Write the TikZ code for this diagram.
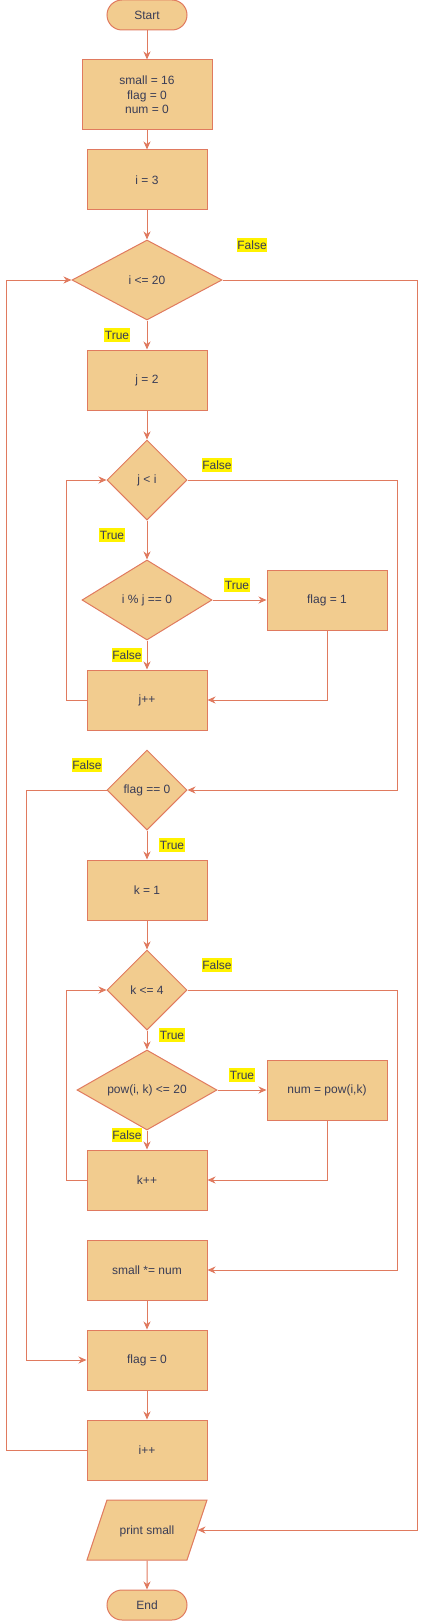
\documentclass[tikz,border=0pt]{standalone}
\usepackage{fontspec}
\setmainfont{Liberation Sans}
\usetikzlibrary{arrows.meta,shapes.geometric}
\definecolor{boxfill}{HTML}{F2CC8F}
\definecolor{boxline}{HTML}{E07A5F}
\definecolor{boxtext}{HTML}{393C56}
\tikzset{
  proc/.style={draw=boxline,fill=boxfill,text=boxtext,line width=1pt,
    minimum width=120pt,minimum height=60pt,inner sep=0pt,align=center},
  term/.style={proc,minimum width=80pt,minimum height=30pt,rounded corners=15pt},
  decide/.style={proc,diamond,shape aspect=2,minimum width=80pt,minimum height=80pt},
  io/.style={proc,trapezium,trapezium left angle=71.57,trapezium right angle=108.43,
    trapezium stretches body=true,text height=34pt,text depth=26pt},
  lbl/.style={fill=yellow,text=boxtext,inner sep=0.5pt,minimum height=14pt},
  flow/.style={draw=boxline,line width=1pt,-{Stealth[length=8pt,width=7pt,inset=2.5pt]}}
}

\begin{document}
\begin{tikzpicture}[x=1pt,y=-1pt,font=\fontsize{12}{14.4}\selectfont]
  \useasboundingbox (0,0) rectangle (426,1621);
  % main column
  \node[term] (start) at (147,15) {Start};
  \node[proc,minimum width=130pt,minimum height=70pt] (init) at (147,95) {small = 16\\flag = 0\\num = 0};
  \node[proc] (iset) at (147,180) {i = 3};
  \node[decide,minimum width=150pt] (iloop) at (147,280) {i <= 20};
  \node[proc] (jset) at (147,380) {j = 2};
  \node[decide] (jloop) at (147,480) {j < i};
  \node[decide,minimum width=130pt] (divchk) at (147,600) {i \% j == 0};
  \node[proc] (flagone) at (327,600) {flag = 1};
  \node[proc] (jinc) at (147,700) {j++};
  \node[decide] (flagchk) at (147,790) {flag == 0};
  \node[proc] (kset) at (147,890) {k = 1};
  \node[decide] (kloop) at (147,990) {k <= 4};
  \node[decide,minimum width=140pt] (powchk) at (147,1090) {pow(i, k) <= 20};
  \node[proc] (numset) at (327,1090) {num = pow(i,k)};
  \node[proc] (kinc) at (147,1180) {k++};
  \node[proc] (smallmul) at (147,1270) {small *= num};
  \node[proc] (flagzero) at (147,1360) {flag = 0};
  \node[proc] (iinc) at (147,1450) {i++};
  \node[io] (out) at (147,1530) {print small};
  \node[term] (finish) at (147,1605) {End};

  % branch labels
  \node[lbl] (ifalse) at (252,245) {False};
  \node[lbl] (itrue) at (117,335) {True};
  \node[lbl] (jfalse) at (217,465) {False};
  \node[lbl] (jtrue) at (112,535) {True};
  \node[lbl] (divtrue) at (237,585) {True};
  \node[lbl] (divfalse) at (127,655) {False};
  \node[lbl] (flagfalse) at (87,765) {False};
  \node[lbl] (flagtrue) at (172,845) {True};
  \node[lbl] (kfalse) at (217,965) {False};
  \node[lbl] (ktrue) at (172,1035) {True};
  \node[lbl] (powtrue) at (242,1075) {True};
  \node[lbl] (powfalse) at (127,1135) {False};

  % straight flow
  \path[flow] (start) -- (init);
  \path[flow] (init) -- (iset);
  \path[flow] (iset) -- (iloop);
  \path[flow] (iloop) -- (jset);
  \path[flow] (jset) -- (jloop);
  \path[flow] (jloop) -- (divchk);
  \path[flow] (divchk) -- (flagone);
  \path[flow] (divchk) -- (jinc);
  \path[flow] (flagchk) -- (kset);
  \path[flow] (kset) -- (kloop);
  \path[flow] (kloop) -- (powchk);
  \path[flow] (powchk) -- (numset);
  \path[flow] (powchk) -- (kinc);
  \path[flow] (smallmul) -- (flagzero);
  \path[flow] (flagzero) -- (iinc);
  \path[flow] (out) -- (finish);

  % loops and exits
  \path[flow] (flagone.south) |- (jinc.east);
  \path[flow] (jinc.west) -- ++(-20,0) |- (jloop.west);
  \path[flow] (jloop.east) -- ++(210,0) |- (flagchk.east);
  \path[flow] (flagchk.west) -- ++(-80,0) |- (flagzero.west);
  \path[flow] (numset.south) |- (kinc.east);
  \path[flow] (kinc.west) -- ++(-20,0) |- (kloop.west);
  \path[flow] (kloop.east) -- ++(210,0) |- (smallmul.east);
  \path[flow] (iinc.west) -- ++(-80,0) |- (iloop.west);
  \path[flow] (iloop.east) -- ++(195,0) |- (out.east);
\end{tikzpicture}
\end{document}
